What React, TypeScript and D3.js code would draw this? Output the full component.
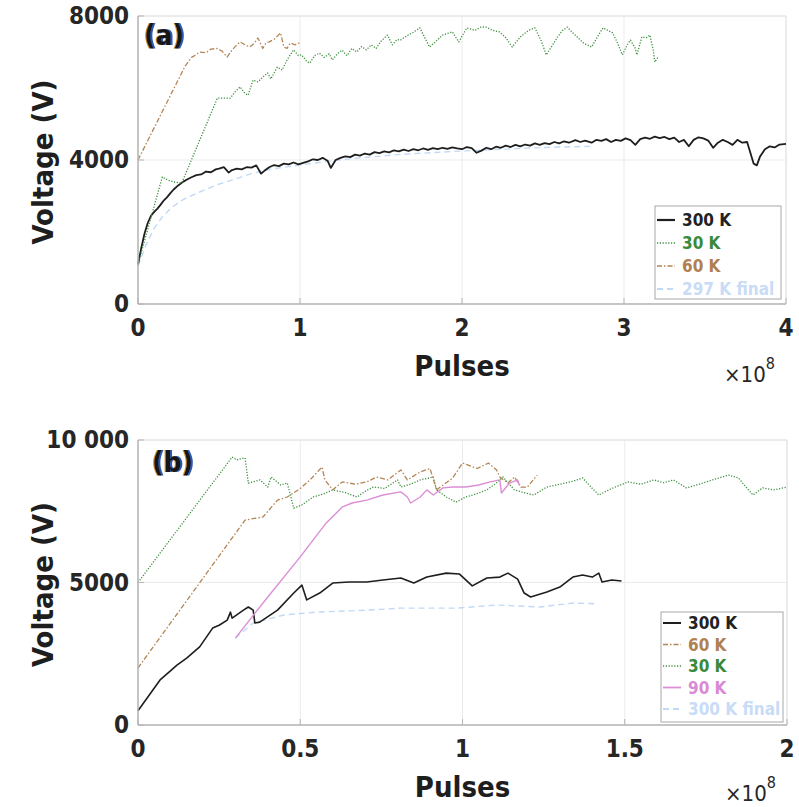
import React from "react";
import * as d3 from "d3";

type P = [number, number];

// ---------- Panel (a) data: x in units of 1e8 pulses, y in volts ----------
const aXTicks = [0, 1, 2, 3, 4];
const aYTicks = [0, 4000, 8000];
const aYTickLabels = ["0", "4000", "8000"];

const a300K: P[] = [
  [0, 1100], [0.02, 1550], [0.04, 1950], [0.06, 2250], [0.08, 2450], [0.1, 2560], [0.12, 2650],
  [0.14, 2760], [0.16, 2880], [0.18, 2970], [0.2, 3080], [0.22, 3180], [0.25, 3300], [0.28, 3400],
  [0.3, 3450], [0.33, 3520], [0.36, 3580], [0.39, 3600], [0.42, 3680], [0.45, 3660], [0.48, 3740],
  [0.5, 3760], [0.53, 3800], [0.56, 3650], [0.58, 3720], [0.61, 3760], [0.64, 3740], [0.67, 3800],
  [0.7, 3790], [0.73, 3850], [0.76, 3620], [0.78, 3700], [0.81, 3800], [0.84, 3860], [0.87, 3830],
  [0.9, 3900], [0.93, 3880], [0.96, 3930], [0.99, 3880], [1.02, 3920], [1.05, 3960], [1.08, 4020],
  [1.11, 4000], [1.14, 4060], [1.17, 3980], [1.19, 3780], [1.22, 4000], [1.25, 4060], [1.28, 4100],
  [1.31, 4080], [1.34, 4150], [1.37, 4120], [1.4, 4180], [1.43, 4150], [1.46, 4220], [1.49, 4190],
  [1.52, 4240], [1.55, 4210], [1.58, 4270], [1.61, 4240], [1.64, 4290], [1.67, 4250], [1.7, 4300],
  [1.73, 4270], [1.76, 4320], [1.79, 4280], [1.82, 4330], [1.85, 4300], [1.88, 4340], [1.91, 4310],
  [1.94, 4350], [1.97, 4320], [2.0, 4300], [2.03, 4360], [2.06, 4330], [2.09, 4200], [2.12, 4260],
  [2.15, 4340], [2.18, 4300], [2.21, 4370], [2.24, 4340], [2.27, 4400], [2.3, 4360], [2.33, 4420],
  [2.36, 4380], [2.39, 4430], [2.42, 4400], [2.45, 4460], [2.48, 4420], [2.51, 4470], [2.54, 4440],
  [2.57, 4500], [2.6, 4460], [2.63, 4520], [2.66, 4480], [2.7, 4550], [2.73, 4500], [2.76, 4540],
  [2.8, 4480], [2.83, 4560], [2.86, 4530], [2.89, 4580], [2.92, 4500], [2.95, 4560], [2.98, 4530],
  [3.01, 4600], [3.04, 4550], [3.07, 4420], [3.1, 4580], [3.13, 4620], [3.16, 4590], [3.19, 4650],
  [3.22, 4610], [3.25, 4640], [3.28, 4580], [3.31, 4620], [3.34, 4500], [3.37, 4560], [3.4, 4380],
  [3.43, 4560], [3.46, 4630], [3.49, 4600], [3.52, 4540], [3.55, 4340], [3.58, 4480], [3.61, 4560],
  [3.64, 4500], [3.67, 4420], [3.7, 4560], [3.73, 4480], [3.76, 4500], [3.78, 4200], [3.8, 3900],
  [3.82, 3850], [3.84, 4100], [3.87, 4300], [3.9, 4380], [3.93, 4350], [3.96, 4430], [4.0, 4450],
];

const a30K: P[] = [
  [0, 1100], [0.15, 3530], [0.18, 3450], [0.22, 3390], [0.27, 3360], [0.49, 5720], [0.57, 5720],
  [0.6, 5900], [0.63, 6030], [0.66, 5850], [0.68, 5800], [0.71, 6220], [0.74, 6170], [0.77, 6300],
  [0.8, 6420], [0.82, 6250], [0.86, 6580], [0.89, 6500], [0.92, 6780], [0.96, 7060], [0.99, 6900],
  [1.01, 6920], [1.04, 6750], [1.06, 6690], [1.09, 6900], [1.12, 6970], [1.15, 6850], [1.18, 6950],
  [1.2, 6780], [1.23, 6950], [1.26, 7050], [1.29, 6900], [1.32, 7100], [1.35, 7000], [1.38, 7150],
  [1.41, 7060], [1.44, 7200], [1.47, 7100], [1.5, 7300], [1.54, 7470], [1.57, 7200], [1.6, 7350],
  [1.62, 7330], [1.66, 7450], [1.7, 7550], [1.74, 7670], [1.77, 7400], [1.8, 7140], [1.84, 7300],
  [1.88, 7470], [1.94, 7560], [1.98, 7280], [2.03, 7670], [2.08, 7600], [2.12, 7700], [2.15, 7690],
  [2.19, 7600], [2.23, 7560], [2.27, 7400], [2.31, 7140], [2.36, 7420], [2.41, 7600], [2.45, 7670],
  [2.49, 7300], [2.52, 6920], [2.56, 7200], [2.59, 7420], [2.62, 7600], [2.65, 7690], [2.68, 7550],
  [2.71, 7420], [2.75, 7250], [2.8, 7140], [2.84, 7450], [2.87, 7670], [2.9, 7600], [2.93, 7530],
  [2.96, 7250], [2.99, 6920], [3.02, 7200], [3.04, 7330], [3.07, 7100], [3.08, 6920], [3.11, 7420],
  [3.14, 7400], [3.16, 7470], [3.18, 7060], [3.19, 6720], [3.21, 6860],
];

const a60K: P[] = [
  [0, 4000], [0.29, 6600], [0.33, 6850], [0.35, 6900], [0.38, 7000], [0.42, 6980], [0.45, 7080],
  [0.49, 7100], [0.52, 7020], [0.55, 6860], [0.58, 7050], [0.6, 7150], [0.63, 7280], [0.66, 7200],
  [0.69, 7140], [0.72, 7250], [0.74, 7390], [0.77, 7100], [0.79, 7250], [0.81, 7280], [0.84, 7350],
  [0.88, 7530], [0.9, 7140], [0.92, 7100], [0.94, 7250], [0.97, 7200], [1.0, 7260],
];

const a297KFinal: P[] = [
  [0, 1050], [0.05, 1650], [0.1, 2100], [0.15, 2420], [0.2, 2650], [0.25, 2820], [0.3, 2950],
  [0.4, 3150], [0.5, 3330], [0.6, 3470], [0.7, 3620], [0.8, 3730], [0.9, 3800], [1.0, 3860],
  [1.2, 3980], [1.4, 4070], [1.6, 4150], [1.8, 4200], [2.0, 4250], [2.2, 4290], [2.4, 4330],
  [2.6, 4360], [2.8, 4380],
];

// ---------- Panel (b) data ----------
const bXTicks = [0, 0.5, 1, 1.5, 2];
const bXTickLabels = ["0", "0.5", "1", "1.5", "2"];
const bYTicks = [0, 5000, 10000];
const bYTickLabels = ["0", "5000", "10 000"];

const b300K: P[] = [
  [0, 500], [0.068, 1580], [0.1, 1900], [0.12, 2100], [0.15, 2350], [0.19, 2740], [0.23, 3400],
  [0.25, 3500], [0.275, 3680], [0.285, 3960], [0.29, 3750], [0.325, 4030], [0.34, 4140],
  [0.355, 4030], [0.36, 3580], [0.375, 3610], [0.43, 4030], [0.48, 4630], [0.505, 4910],
  [0.52, 4390], [0.56, 4630], [0.6, 4980], [0.65, 5020], [0.705, 5020], [0.755, 5090], [0.81, 5160],
  [0.85, 4980], [0.89, 5190], [0.95, 5330], [0.99, 5300], [1.03, 4880], [1.075, 5160], [1.115, 5190],
  [1.14, 5330], [1.17, 5120], [1.19, 4630], [1.21, 4490], [1.26, 4670], [1.3, 4840], [1.34, 5190],
  [1.37, 5260], [1.4, 5190], [1.42, 5330], [1.43, 5020], [1.46, 5090], [1.49, 5050],
];

const b60K: P[] = [
  [0, 2000], [0.33, 7190], [0.385, 7300], [0.43, 7890], [0.46, 8000], [0.5, 8300], [0.53, 8600],
  [0.567, 9050], [0.576, 8600], [0.6, 8250], [0.63, 8530], [0.67, 8450], [0.705, 8530],
  [0.735, 8700], [0.77, 8600], [0.81, 8950], [0.83, 8600], [0.87, 8880], [0.9, 9000], [0.92, 8250],
  [0.97, 8670], [1.0, 9190], [1.045, 9000], [1.08, 9190], [1.105, 8950], [1.115, 8700],
  [1.14, 8490], [1.16, 8700], [1.18, 8350], [1.2, 8350], [1.23, 8770],
];

const b30K: P[] = [
  [0, 5000], [0.29, 9400], [0.305, 9300], [0.32, 9350], [0.33, 9370], [0.34, 8490], [0.36, 8550],
  [0.376, 8600], [0.4, 8350], [0.41, 8700], [0.44, 8420], [0.46, 8490], [0.48, 7610], [0.505, 7720],
  [0.54, 8000], [0.57, 8100], [0.6, 8250], [0.64, 8150], [0.675, 8000], [0.7, 8200], [0.725, 8350],
  [0.76, 8300], [0.8, 8600], [0.81, 8350], [0.84, 8450], [0.87, 8600], [0.91, 8700], [0.92, 8250],
  [0.95, 8000], [0.98, 7820], [1.01, 8000], [1.04, 8100], [1.075, 8250], [1.1, 8450], [1.125, 8700],
  [1.16, 8250], [1.19, 8150], [1.22, 8070], [1.26, 8350], [1.3, 8450], [1.34, 8550], [1.37, 8670],
  [1.4, 8300], [1.42, 8070], [1.46, 8300], [1.51, 8530], [1.55, 8450], [1.59, 8600], [1.62, 8500],
  [1.65, 8600], [1.69, 8320], [1.73, 8450], [1.77, 8600], [1.8, 8700], [1.82, 8770], [1.85, 8670],
  [1.87, 8400], [1.895, 8070], [1.925, 8320], [1.96, 8250], [2.0, 8350],
];

const b90K: P[] = [
  [0.3, 3050], [0.4, 4490], [0.5, 5900], [0.58, 7090], [0.63, 7650], [0.66, 7790], [0.705, 7890],
  [0.755, 8070], [0.81, 8180], [0.83, 8000], [0.84, 7790], [0.87, 8000], [0.89, 8250], [0.91, 8070],
  [0.94, 8320], [0.97, 8350], [1.01, 8350], [1.05, 8420], [1.085, 8530], [1.115, 8600], [1.12, 8140],
  [1.145, 8490], [1.17, 8600], [1.175, 8420],
];

const b300KFinal: P[] = [
  [0.3, 3050], [0.355, 3580], [0.45, 3860], [0.55, 3960], [0.705, 4030], [0.81, 4100], [0.98, 4100],
  [1.105, 4210], [1.24, 4140], [1.34, 4280], [1.415, 4250],
];

// ---------- styles ----------
const FONT = '"DejaVu Sans Condensed", "DejaVu Sans", sans-serif';
const TXT: React.CSSProperties = { fontStretch: "condensed" };
const C_BLACK = "#1e1e1e";
const C_GREEN = "#3d8f3d";
const C_TAN = "#b48556";
const C_BLUE = "#c2d9f6";
const C_PINK = "#db8fd6";

type Series = { label: string; data: P[]; color: string; dash: string; width: number; textColor: string };

const seriesA: Series[] = [
  { label: "300 K", data: a300K, color: C_BLACK, dash: "", width: 1.8, textColor: "#222" },
  { label: "30 K", data: a30K, color: C_GREEN, dash: "1.2 1.6", width: 1.3, textColor: "#3a8a3a" },
  { label: "60 K", data: a60K, color: C_TAN, dash: "5 2 1.5 2", width: 1.3, textColor: "#b08050" },
  { label: "297 K final", data: a297KFinal, color: C_BLUE, dash: "6 4", width: 1.4, textColor: "#c8dcf6" },
];
const drawOrderA = [3, 0, 1, 2];

const seriesB: Series[] = [
  { label: "300 K", data: b300K, color: C_BLACK, dash: "", width: 1.6, textColor: "#222" },
  { label: "60 K", data: b60K, color: C_TAN, dash: "5 2 1.5 2", width: 1.3, textColor: "#b08050" },
  { label: "30 K", data: b30K, color: C_GREEN, dash: "1.2 1.6", width: 1.3, textColor: "#3a8a3a" },
  { label: "90 K", data: b90K, color: C_PINK, dash: "", width: 1.4, textColor: "#d98ad6" },
  { label: "300 K final", data: b300KFinal, color: C_BLUE, dash: "6 4", width: 1.4, textColor: "#c8dcf6" },
];
const drawOrderB = [4, 0, 2, 1, 3];

type PanelProps = {
  left: number; right: number; top: number; bottom: number;
  xMax: number; yMax: number;
  xTicks: number[]; xTickLabels: string[];
  yTicks: number[]; yTickLabels: string[];
  series: Series[]; order: number[];
  tag: string; tagX: number; tagY: number;
  expY: number;
  legend: { x: number; y: number; w: number; h: number; row0: number; rowH: number };
};

function Panel(p: PanelProps) {
  const x = d3.scaleLinear().domain([0, p.xMax]).range([p.left, p.right]);
  const y = d3.scaleLinear().domain([0, p.yMax]).range([p.bottom, p.top]);
  const line = d3.line<P>().x((d) => x(d[0])).y((d) => y(d[1]));
  const midX = (p.left + p.right) / 2;
  const midY = (p.top + p.bottom) / 2;
  return (
    <g>
      {p.xTicks.map((t, i) => (
        <line key={"gx" + i} x1={x(t)} x2={x(t)} y1={p.top} y2={p.bottom} stroke="#ebebeb" strokeWidth={1} />
      ))}
      {p.yTicks.map((t, i) => (
        <line key={"gy" + i} x1={p.left} x2={p.right} y1={y(t)} y2={y(t)} stroke="#ebebeb" strokeWidth={1} />
      ))}
      <line x1={p.left} x2={p.right} y1={p.top} y2={p.top} stroke="#e2e2e2" strokeWidth={1} />
      <line x1={p.right} x2={p.right} y1={p.top} y2={p.bottom} stroke="#e2e2e2" strokeWidth={1} />
      {p.order.map((k) => {
        const s = p.series[k];
        return (
          <path key={"s" + k} d={line(s.data) || ""} fill="none" stroke={s.color} strokeWidth={s.width}
            strokeDasharray={s.dash || undefined} strokeLinejoin="round" />
        );
      })}
      <line x1={p.left} x2={p.right} y1={p.bottom} y2={p.bottom} stroke="#b5b5b5" strokeWidth={1.5} />
      <line x1={p.left} x2={p.left} y1={p.top} y2={p.bottom} stroke="#b5b5b5" strokeWidth={1.5} />
      {p.yTicks.map((t, i) => (
        <line key={"ty" + i} x1={p.left} x2={p.left + 6} y1={y(t)} y2={y(t)} stroke="#b5b5b5" strokeWidth={1} />
      ))}
      {p.xTicks.map((t, i) => (
        <line key={"tx" + i} x1={x(t)} x2={x(t)} y1={p.bottom} y2={p.bottom - 6} stroke="#b5b5b5" strokeWidth={1} />
      ))}
      {p.yTicks.map((t, i) => (
        <text key={"ly" + i} x={p.left - 9} y={y(t) + 8} textAnchor="end" fontFamily={FONT} style={TXT}
          fontWeight="bold" fontSize={24} fill="#262626">{p.yTickLabels[i]}</text>
      ))}
      {p.xTicks.map((t, i) => (
        <text key={"lx" + i} x={x(t)} y={p.bottom + 32} textAnchor="middle" fontFamily={FONT} style={TXT}
          fontWeight="bold" fontSize={24} fill="#262626">{p.xTickLabels[i]}</text>
      ))}
      <text x={0} y={0} transform={`translate(53, ${midY + 2}) rotate(-90)`} textAnchor="middle" style={TXT}
        fontFamily={FONT} fontWeight="bold" fontSize={29} fill="#1e1e1e">Voltage (V)</text>
      <text x={midX} y={p.bottom + 72} textAnchor="middle" fontFamily={FONT} fontWeight="bold" style={TXT}
        fontSize={29} fill="#1e1e1e">Pulses</text>
      <text x={p.right - 62} y={p.expY} fontFamily={FONT} fontSize={22} fill="#262626" style={TXT}>
        ×10<tspan dy={-13} fontSize={16}>8</tspan>
      </text>
      <text x={p.tagX} y={p.tagY} fontFamily={FONT} fontWeight="bold" fontSize={28} fill="#151515"
        style={TXT} filter="url(#fringe)">{p.tag}</text>
      <rect x={p.legend.x} y={p.legend.y} width={p.legend.w} height={p.legend.h} fill="#fff" stroke="#a8a8a8" strokeWidth={1} />
      {p.series.map((s, i) => {
        const cy = p.legend.row0 + i * p.legend.rowH;
        return (
          <g key={"lg" + i}>
            <line x1={p.legend.x + 2} x2={p.legend.x + 20} y1={cy} y2={cy} stroke={s.color}
              strokeWidth={s.width + 0.4} strokeDasharray={s.dash || undefined} />
            <text x={p.legend.x + 27} y={cy + 6} fontFamily={FONT} fontWeight="bold" fontSize={17} style={TXT}
              fill={s.textColor}>{s.label}</text>
          </g>
        );
      })}
    </g>
  );
}

export default function App() {
  return (
    <svg width={799} height={807} style={{ position: "absolute", left: 0, top: 0, background: "#fff" }}>
      <defs>
        <filter id="fringe" x="-20%" y="-20%" width="140%" height="140%">
          <feOffset in="SourceAlpha" dx={-1.5} dy={0} result="o1" />
          <feFlood floodColor="#d08a2a" result="f1" />
          <feComposite in="f1" in2="o1" operator="in" result="orange" />
          <feOffset in="SourceAlpha" dx={1.5} dy={0} result="o2" />
          <feFlood floodColor="#2a5ab0" result="f2" />
          <feComposite in="f2" in2="o2" operator="in" result="blue" />
          <feMerge>
            <feMergeNode in="orange" />
            <feMergeNode in="blue" />
            <feMergeNode in="SourceGraphic" />
          </feMerge>
        </filter>
      </defs>
      <rect x={0} y={0} width={799} height={807} fill="#fff" />
      <Panel left={138} right={786} top={16} bottom={304} xMax={4} yMax={8000}
        xTicks={aXTicks} xTickLabels={aXTicks.map(String)} yTicks={aYTicks} yTickLabels={aYTickLabels}
        series={seriesA} order={drawOrderA} tag="(a)" tagX={144} tagY={45} expY={382}
        legend={{ x: 655, y: 206, w: 126, h: 93, row0: 220, rowH: 23 }} />
      <Panel left={138} right={787} top={440} bottom={725} xMax={2} yMax={10000}
        xTicks={bXTicks} xTickLabels={bXTickLabels} yTicks={bYTicks} yTickLabels={bYTickLabels}
        series={seriesB} order={drawOrderB} tag="(b)" tagX={152} tagY={472} expY={801}
        legend={{ x: 661, y: 612, w: 122, h: 110, row0: 623, rowH: 21.5 }} />
    </svg>
  );
}
